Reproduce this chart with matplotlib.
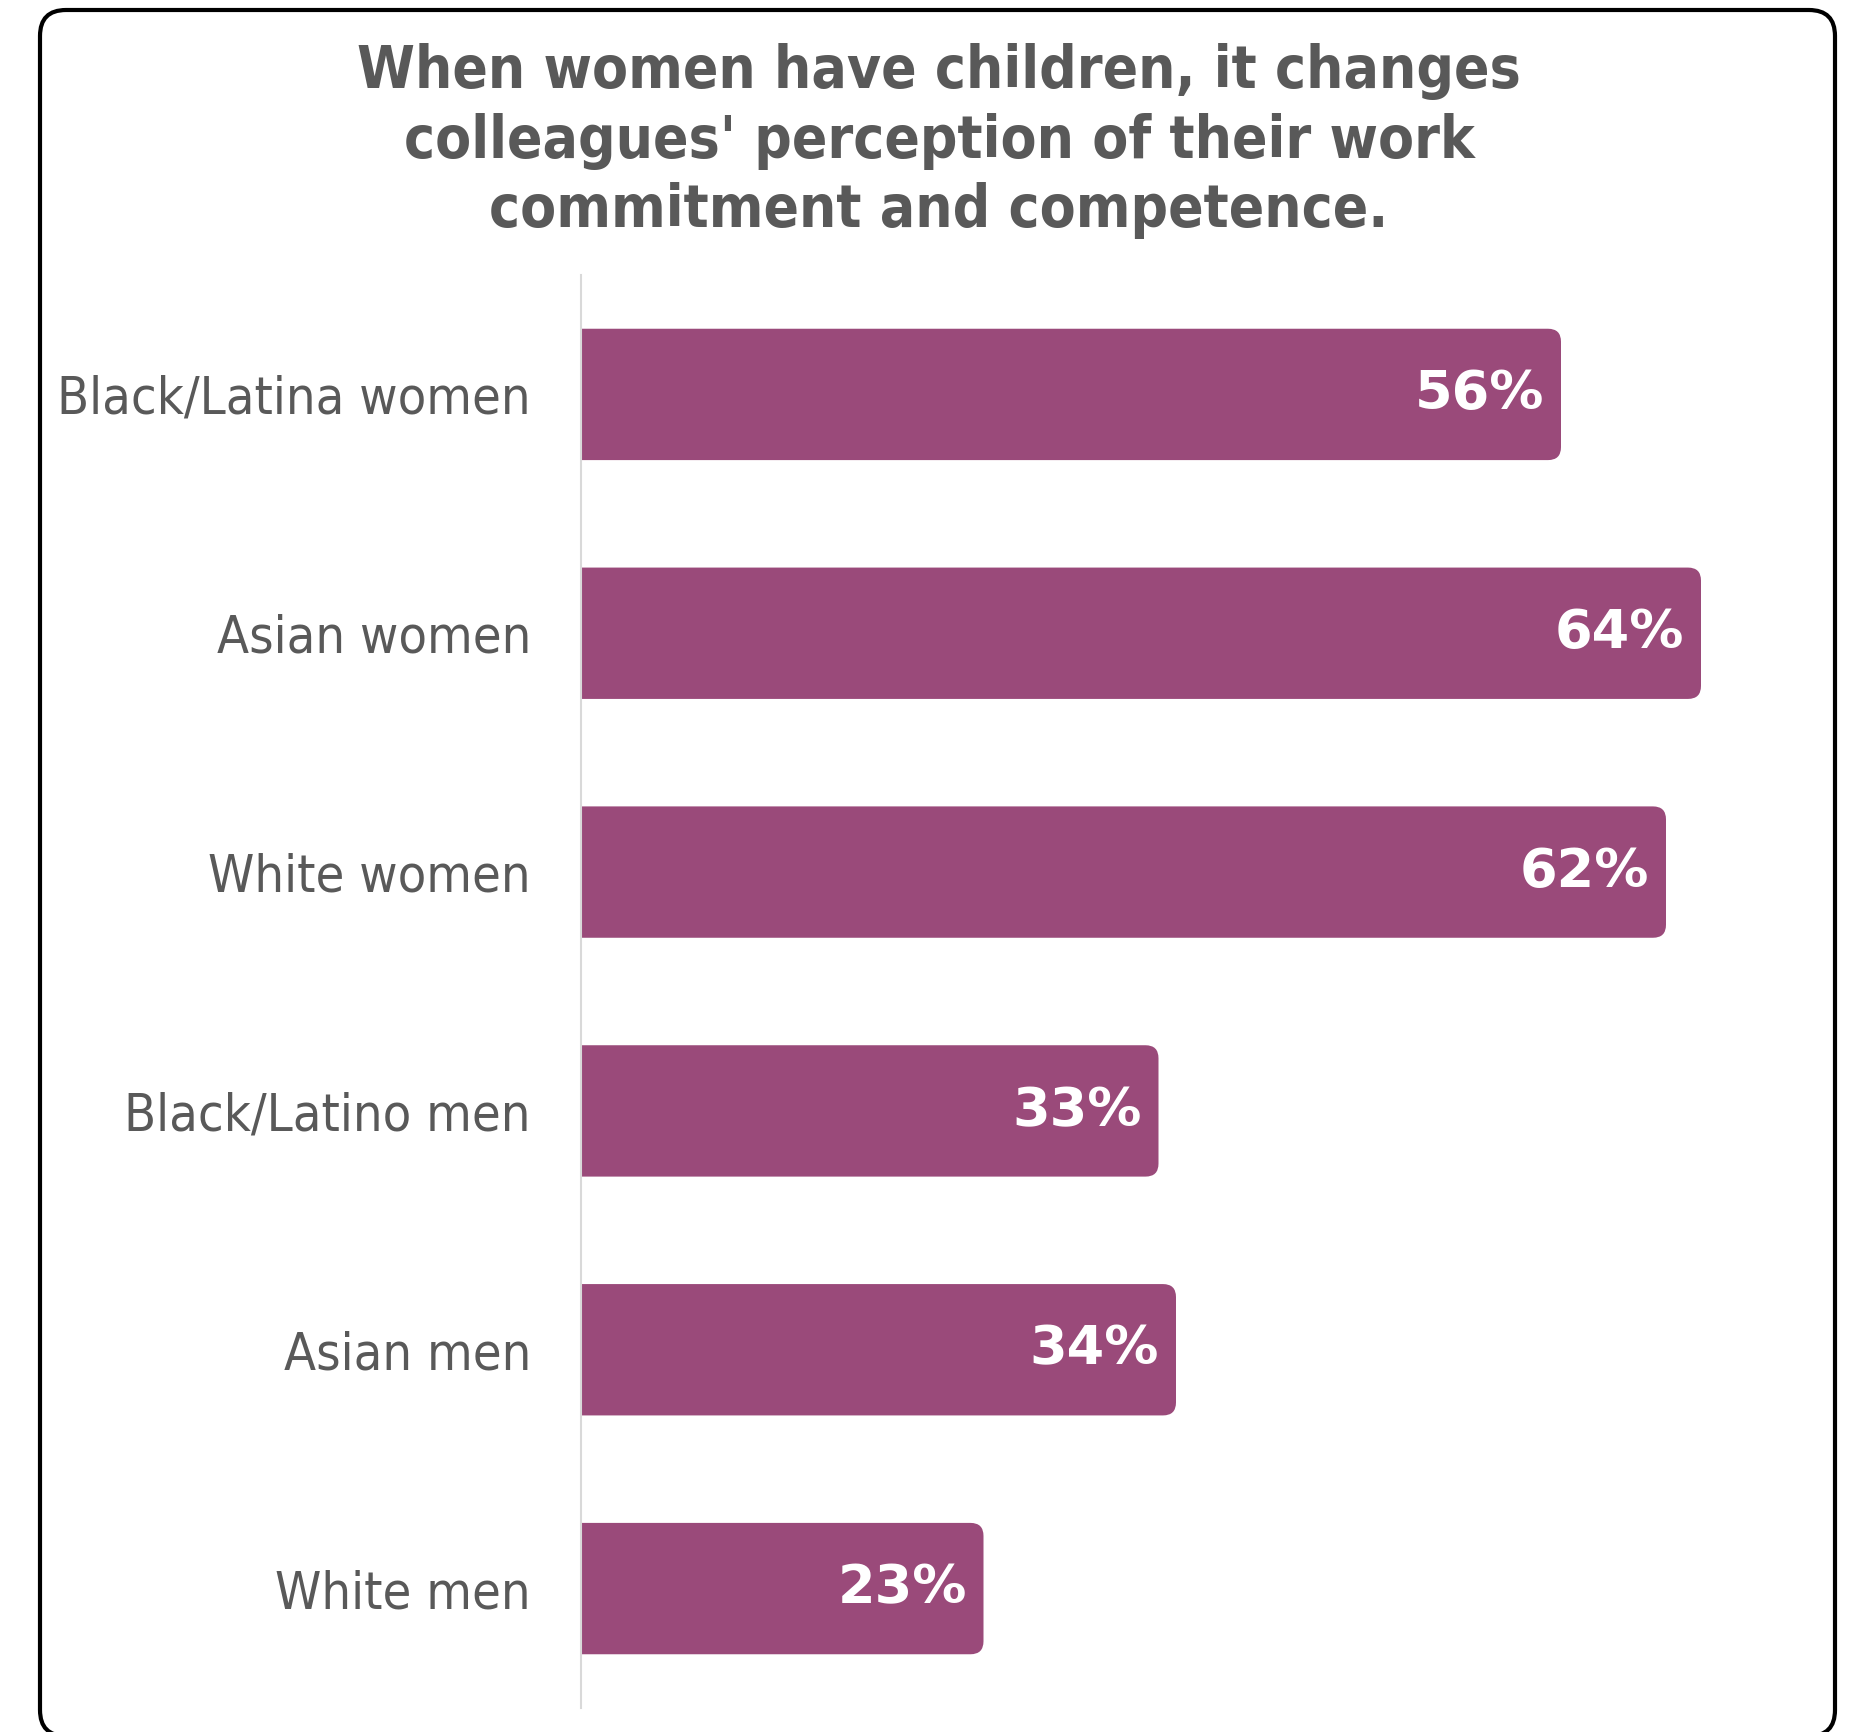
import matplotlib
matplotlib.use("Agg")
import matplotlib.pyplot as plt
from matplotlib.patches import FancyBboxPatch, PathPatch
from matplotlib.path import Path

# Survey results: share saying having children changes perceptions
categories = ["Black/Latina women", "Asian women", "White women",
              "Black/Latino men", "Asian men", "White men"]
values = [56, 64, 62, 33, 34, 23]
value_labels = ["56%", "64%", "62%", "33%", "34%", "23%"]
title_lines = ["When women have children, it changes",
               "colleagues' perception of their work",
               "commitment and competence."]

BAR_COLOR = "#9A4A7A"
TEXT_COLOR = "#595959"
FONT = ["DejaVu Sans Condensed", "DejaVu Sans"]

W, H, DPI = 1856, 1732, 100
fig = plt.figure(figsize=(W / DPI, H / DPI), dpi=DPI)
fig.patch.set_facecolor("white")

# Rounded outer frame
frame = FancyBboxPatch((40 / W, -4 / H), (1835 - 40) / W, (H + 4 - 10) / H,
                       boxstyle="round,pad=0,rounding_size=%f" % (26 / W),
                       mutation_aspect=W / H, transform=fig.transFigure,
                       facecolor="none", edgecolor="black", linewidth=3.0,
                       zorder=0)
fig.patches.append(frame)

x_max = 70
ax_left, ax_right = 581, 581 + 17.5 * x_max
ax_top, ax_bottom = 275, 1708
ax = fig.add_axes([ax_left / W, 1 - ax_bottom / H,
                   (ax_right - ax_left) / W, (ax_bottom - ax_top) / H])
ax.set_xlim(0, x_max)
ax.set_ylim(len(categories) - 0.5, -0.5)

bar_h = 0.55
px_per_x = (ax_right - ax_left) / x_max
px_per_y = (ax_bottom - ax_top) / len(categories)
radius_px = 13
r_x = radius_px / px_per_x
r_y = radius_px / px_per_y

ys = list(range(len(categories)))
bars = ax.barh(ys, values, height=bar_h, color=BAR_COLOR, edgecolor="none",
               zorder=2)

# Replace each bar's square end with a rounded right end
for rect in bars:
    x0, y0 = rect.get_x(), rect.get_y()
    x1, y1 = x0 + rect.get_width(), y0 + rect.get_height()
    verts = [(x0, y0), (x1 - r_x, y0), (x1, y0), (x1, y0 + r_y),
             (x1, y1 - r_y), (x1, y1), (x1 - r_x, y1), (x0, y1), (x0, y0)]
    codes = [Path.MOVETO, Path.LINETO, Path.CURVE3, Path.CURVE3,
             Path.LINETO, Path.CURVE3, Path.CURVE3, Path.LINETO,
             Path.CLOSEPOLY]
    ax.add_patch(PathPatch(Path(verts, codes), facecolor=BAR_COLOR,
                           edgecolor="none", zorder=2))
    rect.set_visible(False)

for y, v, lab in zip(ys, values, value_labels):
    ax.annotate(lab, xy=(v, y), xytext=(-12, 0), textcoords="offset points",
                ha="right", va="center", color="white", fontsize=39,
                fontweight="bold", family="DejaVu Sans", zorder=3)

ax.set_yticks(ys)
ax.set_yticklabels(categories, color=TEXT_COLOR, fontsize=37.5,
                   family=FONT, fontstretch="condensed")
ax.tick_params(axis="y", length=0, pad=36)
ax.set_xticks([])
for s in ["top", "right", "bottom"]:
    ax.spines[s].set_visible(False)
ax.spines["left"].set_color("#D9D9D9")
ax.spines["left"].set_linewidth(1.5)
ax.set_facecolor("none")

fig.text(939 / W, 1 - 141 / H, "\n".join(title_lines), ha="center",
         va="center", multialignment="center", color=TEXT_COLOR,
         fontsize=42, fontweight="bold", family=FONT,
         fontstretch="condensed", linespacing=1.27)

fig.savefig("out.png", dpi=DPI, facecolor="white")
